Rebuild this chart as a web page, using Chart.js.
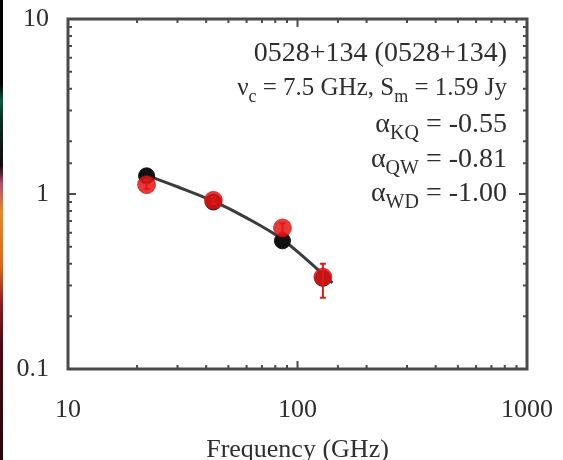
<!DOCTYPE html>
<html>
<head>
<meta charset="utf-8">
<script src="https://cdn.jsdelivr.net/npm/chart.js@4"></script>
<style>
  html, body { margin: 0; padding: 0; background: #fff; }
  #wrap { position: relative; width: 563px; height: 460px; }
  #strip {
    position: absolute; left: 0; top: 0; width: 3px; height: 460px;
    background: linear-gradient(#000 0%, #000 18%, #0b5a3c 22%, #06301f 26%, #120a0a 36%,
      #b0506a 40%, #e2892a 46%, #d46a1c 58%, #8a1c22 66%, #4a0a10 75%, #2a0508 100%);
  }
</style>
</head>
<body>
<div id="wrap">
  <canvas id="myChart" width="563" height="460"></canvas>
  <div id="strip"></div>
</div>
<script>
'use strict';

// frecuencias de observacion (GHz) y flujos (Jy)
const freqs = [22, 43, 86, 129];
const fluxBlack = [1.27, 0.90, 0.54, 0.33];
const fluxRed = [1.13, 0.92, 0.64, 0.335];
const redErrLo = [1.07, 0.88, 0.60, 0.255];
const redErrHi = [1.20, 0.96, 0.68, 0.40];

// curva del ajuste
const fitFreqs = [22, 30, 43, 60, 86, 110, 142];
const fitFlux = [1.28, 1.10, 0.91, 0.73, 0.55, 0.42, 0.31];

const xTicks = [10, 100, 1000];
const yTicks = [0.1, 1, 10];

const serif = "'Liberation Serif', 'Times New Roman', serif";
const ink = '#2e2e2e';

function pares(xs, ys) {
	return xs.map((x, i) => ({ x: x, y: ys[i] }));
}

function esDecada(v) {
	const l = Math.log10(v);
	return Math.abs(l - Math.round(l)) < 1e-6;
}

function etiqueta(lista) {
	return function (v) {
		const hit = lista.find(t => Math.abs(t - v) / t < 1e-6);
		return hit === undefined ? '' : String(hit);
	};
}

// marco y marcas hacia adentro
const marco = {
	id: 'marco',
	afterDraw(chart) {
		const c = chart.ctx;
		const a = chart.chartArea;
		const sx = chart.scales.x;
		const sy = chart.scales.y;
		c.save();
		c.strokeStyle = '#4a4a4a';
		c.lineWidth = 2;
		sx.ticks.forEach(t => {
			const px = sx.getPixelForValue(t.value);
			const len = esDecada(t.value) ? 8 : 4;
			c.beginPath();
			c.moveTo(px, a.bottom); c.lineTo(px, a.bottom - len);
			c.moveTo(px, a.top); c.lineTo(px, a.top + len);
			c.stroke();
		});
		sy.ticks.forEach(t => {
			const py = sy.getPixelForValue(t.value);
			const len = esDecada(t.value) ? 8 : 4;
			c.beginPath();
			c.moveTo(a.left, py); c.lineTo(a.left + len, py);
			c.moveTo(a.right, py); c.lineTo(a.right - len, py);
			c.stroke();
		});
		c.lineWidth = 3;
		c.strokeRect(a.left, a.top, a.right - a.left, a.bottom - a.top);
		c.restore();
	}
};

// barras de error de los puntos rojos
const errores = {
	id: 'errores',
	beforeDatasetDraw(chart, args) {
		if (args.index !== 0) return;
		const c = chart.ctx;
		const sx = chart.scales.x;
		const sy = chart.scales.y;
		c.save();
		c.strokeStyle = '#e01818';
		c.lineWidth = 2;
		freqs.forEach((f, i) => {
			const px = sx.getPixelForValue(f);
			const y1 = sy.getPixelForValue(redErrLo[i]);
			const y2 = sy.getPixelForValue(redErrHi[i]);
			c.beginPath();
			c.moveTo(px, y1); c.lineTo(px, y2);
			c.moveTo(px - 3, y1); c.lineTo(px + 3, y1);
			c.moveTo(px - 3, y2); c.lineTo(px + 3, y2);
			c.stroke();
		});
		c.restore();
	}
};

// texto con subindices, alineado a la derecha
function textoRico(c, xDer, y, size, partes) {
	const big = size + 'px ' + serif;
	const small = Math.round(size * 0.7) + 'px ' + serif;
	let total = 0;
	partes.forEach(p => {
		c.font = p[1] ? small : big;
		total += c.measureText(p[0]).width;
	});
	let x = xDer - total;
	partes.forEach(p => {
		c.font = p[1] ? small : big;
		c.fillText(p[0], x, p[1] ? y + 7 : y);
		x += c.measureText(p[0]).width;
	});
}

const rotulo = {
	id: 'rotulo',
	afterDraw(chart) {
		const c = chart.ctx;
		c.save();
		c.fillStyle = ink;
		c.textBaseline = 'alphabetic';
		c.textAlign = 'left';
		const xr = 507;
		textoRico(c, xr, 61, 28, [['0528+134 (0528+134)', false]]);
		textoRico(c, xr, 95, 25, [['\u03bd', false], ['c', true], [' = 7.5 GHz, S', false], ['m', true], [' = 1.59 Jy', false]]);
		textoRico(c, xr, 132, 28, [['\u03b1', false], ['KQ', true], [' = -0.55', false]]);
		textoRico(c, xr, 167, 28, [['\u03b1', false], ['QW', true], [' = -0.81', false]]);
		textoRico(c, xr, 201, 28, [['\u03b1', false], ['WD', true], [' = -1.00', false]]);
		c.restore();
	}
};

const ctx = document.getElementById('myChart');

new Chart(ctx, {
	type: 'scatter',
	data: {
		datasets: [
			{
				label: 'rojo',
				data: pares(freqs, fluxRed),
				pointRadius: 9,
				pointBackgroundColor: 'rgba(228, 22, 22, 0.85)',
				pointBorderColor: 'rgba(200, 10, 10, 0.6)',
				pointBorderWidth: 1,
			},
			{
				label: 'negro',
				data: pares(freqs, fluxBlack),
				pointRadius: 8,
				pointBackgroundColor: '#111',
				pointBorderColor: '#111',
			},
			{
				label: 'ajuste',
				data: pares(fitFreqs, fitFlux),
				showLine: true,
				borderColor: '#3c3c3c',
				borderWidth: 3,
				pointRadius: 0,
				cubicInterpolationMode: 'monotone',
			},
		]
	},
	options: {
		responsive: false,
		animation: false,
		devicePixelRatio: 1,
		layout: { padding: { top: 19, right: 36, left: 0, bottom: 0 } },
		plugins: {
			legend: { display: false },
			tooltip: { enabled: false },
		},
		scales: {
			x: {
				type: 'logarithmic',
				min: 10,
				max: 1000,
				grid: { display: false },
				border: { display: false },
				afterFit(s) {
					s.height = 91;
					s.paddingLeft = 0;
					s.paddingRight = 0;
				},
				ticks: {
					autoSkip: false,
					maxRotation: 0,
					padding: 18,
					color: ink,
					font: { family: serif, size: 26 },
					callback: etiqueta(xTicks),
				},
				title: {
					display: true,
					text: 'Frequency (GHz)',
					color: ink,
					font: { family: serif, size: 26 },
					padding: { top: 0, bottom: -6 },
				},
			},
			y: {
				type: 'logarithmic',
				min: 0.1,
				max: 10,
				grid: { display: false },
				border: { display: false },
				afterFit(s) {
					s.width = 68;
					s.paddingTop = 0;
					s.paddingBottom = 0;
				},
				ticks: {
					autoSkip: false,
					padding: 11,
					color: ink,
					font: { family: serif, size: 26 },
					callback: etiqueta(yTicks),
				},
			},
		},
	},
	plugins: [marco, errores, rotulo],
});
</script>
</body>
</html>
